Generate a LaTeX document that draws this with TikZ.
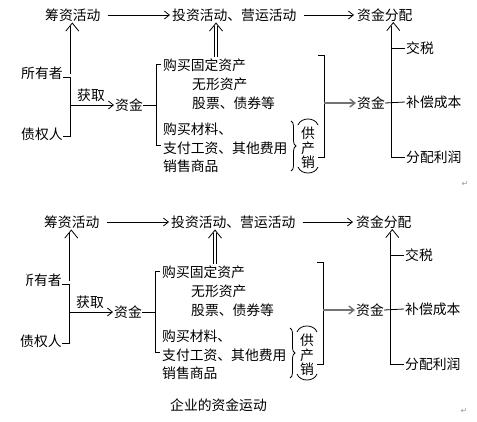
\documentclass[tikz,border=0pt]{standalone}
\usepackage{fontspec}
\newfontfamily\cjk{Noto Sans CJK SC}
\newfontfamily\dejavu{DejaVu Sans}
\usetikzlibrary{arrows.meta,decorations.pathreplacing}
\tikzset{
  txt/.style={anchor=west, inner sep=0pt, font=\cjk\fontsize{13.8}{16}\selectfont},
  ln/.style={line width=0.8pt},
  arr/.style={line width=0.8pt, -{Straight Barb[length=5pt,width=8pt]}},
  garr/.style={line width=1.4pt, draw=black!55, -{Straight Barb[length=5pt,width=8pt]}},
  dblline/.style={double, double distance=2.5pt, line width=0.75pt, shorten >=3pt},
  chevron/.style={line width=0.8pt},
  retmark/.style={inner sep=0pt, text=black!40, font=\dejavu\fontsize{8}{8}\selectfont},
}
% #1 = left clip of the first source label
\newcommand\fundflow[1]{%
  % top row
  \node[txt] (chouzi) at (45,15) {筹资活动};
  \node[txt] (touzi) at (172,15) {投资活动、营运活动};
  \node[txt] (fenpei) at (357,15) {资金分配};
  \draw[arr] ([xshift=7pt]chouzi.east) -- ([xshift=-2pt]touzi.west);
  \draw[arr] ([xshift=7pt]touzi.east) -- ([xshift=-3pt]fenpei.west);
  % sources
  \begin{scope}
    \clip (#1,55) rectangle (68,90);
    \node[txt] (suoyou) at (21,73) {所有者};
  \end{scope}
  \node[txt] (zhaiquan) at (21,134) {债权人};
  \coordinate (sa) at (63,77);
  \coordinate (sb) at (63,136);
  \coordinate (va) at (70,77);
  \coordinate (vb) at (70,136);
  \coordinate (vm) at (70,105);
  \draw[ln] (sa) -- (va) -- (vb) -- (sb);
  \coordinate (da) at (72.3,74);
  \coordinate (tipa) at (da |- chouzi.south);
  \draw[dblline] (da) -- ([yshift=-1.5pt]tipa);
  \draw[chevron] ([xshift=-6.5pt,yshift=-9.5pt]tipa) -- ([yshift=-1.5pt]tipa) -- ([xshift=6.5pt,yshift=-9.5pt]tipa);
  % obtain
  \node[txt] (huoqu) at (77,95) {获取};
  \node[txt] (zijin1) at (115,105) {资金};
  \draw[arr] (vm) -- ([xshift=-1pt]zijin1.west);
  \coordinate (lbm) at (156,105);
  \draw[ln] (zijin1.east) -- (lbm);
  % uses
  \node[txt] (t1) at (163,65) {购买固定资产};
  \node[txt] (t2) at (192,84) {无形资产};
  \node[txt] (t3) at (192,103) {股票、债券等};
  \node[txt] (t4) at (163,129) {购买材料、};
  \node[txt] (t5) at (163,148) {支付工资、其他费用};
  \node[txt] (t6) at (163,166) {销售商品};
  \coordinate (lbt) at (156,64);
  \coordinate (lbb) at (156,145);
  \draw[ln] (161,64) -- (lbt) -- (lbb) -- (161,145);
  \coordinate (db) at (216,57);
  \coordinate (tipb) at (db |- touzi.south);
  \draw[dblline] (db) -- ([yshift=-1.5pt]tipb);
  \draw[chevron] ([xshift=-6.5pt,yshift=-9.5pt]tipb) -- ([yshift=-1.5pt]tipb) -- ([xshift=6.5pt,yshift=-9.5pt]tipb);
  % brace and supply/production/sales
  \draw[ln, decorate, decoration={brace, amplitude=5pt}] (291,121) -- (291,171);
  \draw[ln] (298,125) .. controls (301,117) and (315,117) .. (318,125);
  \draw[ln] (298,167) .. controls (301,175) and (315,175) .. (318,167);
  \node[txt, anchor=center] (g1) at (308,133) {供};
  \node[txt, anchor=center] (g2) at (308,148) {产};
  \node[txt, anchor=center] (g3) at (308,162) {销};
  % right bracket
  \coordinate (rbt) at (324,55);
  \coordinate (rbb) at (324,157);
  \coordinate (rbm) at (324,103);
  \draw[ln] (318,55) -- (rbt) -- (rbb) -- (318,157);
  \node[txt] (zijin2) at (357,103) {资金};
  \draw[garr] (rbm) -- ([xshift=-1pt]zijin2.west);
  % distribution
  \node[txt] (jiaoshui) at (406,48) {交税};
  \node[txt] (buchang) at (406,102) {补偿成本};
  \node[txt] (lirun) at (406,157) {分配利润};
  \coordinate (ra) at (391,48);
  \coordinate (rb) at (391,157);
  \draw[ln] (zijin2.east) -- ([xshift=-1pt]buchang.west);
  \draw[ln] ([xshift=-1pt]jiaoshui.west) -- (ra) -- (rb) -- ([xshift=-1pt]lirun.west);
  \coordinate (dc) at (393.3,48);
  \coordinate (tipc) at (dc |- fenpei.south);
  \draw[dblline] (dc) -- ([yshift=-1pt]tipc);
  \draw[chevron] ([xshift=-6.5pt,yshift=-9pt]tipc) -- ([yshift=-1pt]tipc) -- ([xshift=6.5pt,yshift=-9pt]tipc);
}
\begin{document}
\begin{tikzpicture}[x=1pt,y=-1pt]
  \useasboundingbox[fill=white] (0,0) rectangle (477,421);
  \fundflow{0}
  \node[retmark] (ret1) at (465,184) {↵};
  \begin{scope}[shift={(-1,207)}, name prefix=b-]
    \fundflow{27}
  \end{scope}
  \node[txt] (caption) at (170,405) {企业的资金运动};
  \node[retmark] (ret2) at (464,411) {↵};
\end{tikzpicture}
\end{document}
